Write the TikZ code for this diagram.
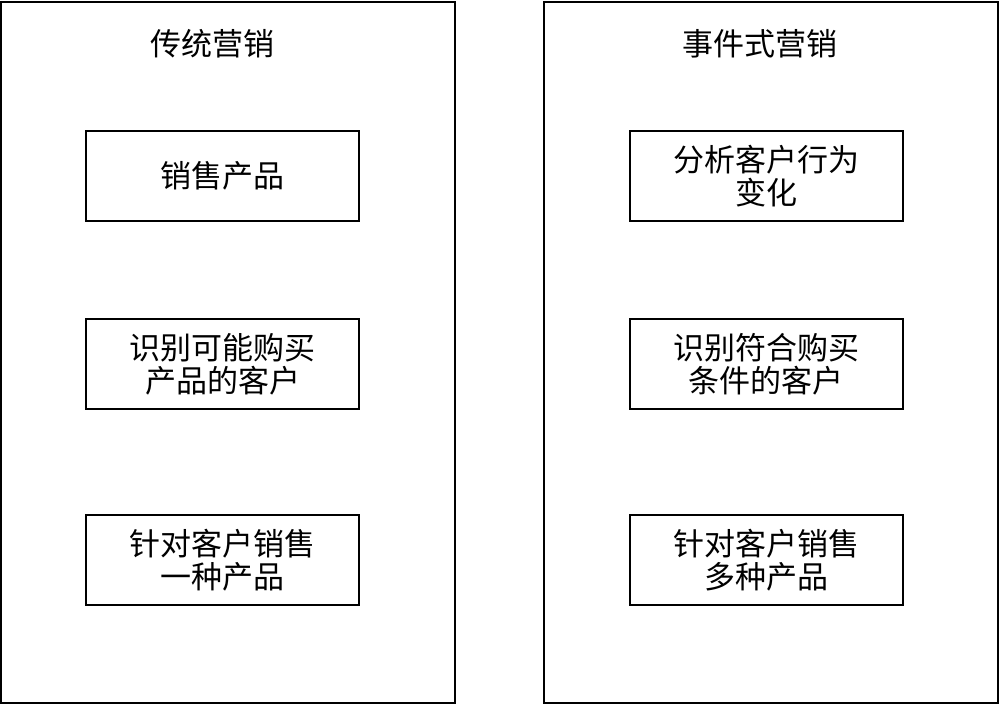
\documentclass[tikz,border=0pt]{standalone}
\usepackage{fontspec}
\newfontfamily\cjk{Noto Sans CJK SC}
\tikzset{
  panel/.style={draw, line width=2pt, minimum width=454pt, minimum height=701pt, inner sep=0pt},
  stepbox/.style={draw, line width=2pt, minimum width=273pt, minimum height=90pt, align=center, inner sep=0pt,
    font=\cjk\fontsize{31}{33}\selectfont},
  heading/.style={font=\cjk\fontsize{31}{33}\selectfont}
}
\begin{document}
\begin{tikzpicture}[x=1pt, y=-1pt]
  \useasboundingbox (0,0) rectangle (999,704);
  % two panels
  \node[panel] (old) at (228,352) {};
  \node[panel] (new) at (770.5,352) {};
  \node[heading] (oldtitle) at (212,44) {传统营销};
  \node[heading] (newtitle) at (760,44) {事件式营销};
  % traditional
  \node[stepbox] (old1) at (222.5,176) {销售产品};
  \node[stepbox] (old2) at (222.5,364) {识别可能购买\\产品的客户};
  \node[stepbox] (old3) at (222.5,560) {针对客户销售\\一种产品};
  % event based
  \node[stepbox] (new1) at (766,176) {分析客户行为\\变化};
  \node[stepbox] (new2) at (766,364) {识别符合购买\\条件的客户};
  \node[stepbox] (new3) at (766,560) {针对客户销售\\多种产品};
\end{tikzpicture}
\end{document}
